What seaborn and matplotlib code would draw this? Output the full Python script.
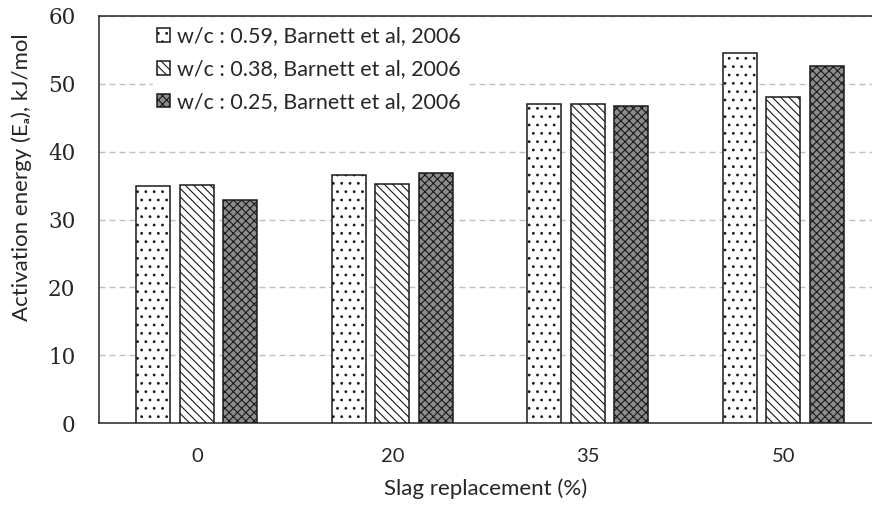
import numpy as np
import pandas as pd
import seaborn as sns
import matplotlib.pyplot as plt
from matplotlib.ticker import MultipleLocator, FixedLocator

# veriler
slag = ['0', '20', '35', '50']
wc_059 = [34.9, 36.6, 47.1, 54.6]
wc_038 = [35.1, 35.2, 47.0, 48.0]
wc_025 = [32.9, 36.85, 46.8, 52.6]
series_labels = ['w/c : 0.59, Barnett et al, 2006',
                 'w/c : 0.38, Barnett et al, 2006',
                 'w/c : 0.25, Barnett et al, 2006']

df = pd.DataFrame({
    'slag': slag * 3,
    'Ea': wc_059 + wc_038 + wc_025,
    'series': [series_labels[0]] * 4 + [series_labels[1]] * 4 + [series_labels[2]] * 4,
})

sns.set_style('white')
plt.rcParams['font.family'] = ['Lato', 'DejaVu Sans']
plt.rcParams['hatch.linewidth'] = 0.8

fig = plt.figure(figsize=(8.72, 5.08), dpi=100)
ax = fig.add_axes([99 / 872, 85 / 508, 773 / 872, 407 / 508])

sns.barplot(data=df, x='slag', y='Ea', hue='series', order=slag, hue_order=series_labels,
            width=0.6675, gap=0.218, palette=['white'] * 3, edgecolor='#1a1a1a',
            linewidth=1.1, legend=False, ax=ax, zorder=3)

# desenler
hatches = ['..', '\\\\\\\\', 'xxxx']
faces = ['white', 'white', '#8c8c8c']
for cont, h, fc in zip(ax.containers, hatches, faces):
    for p in cont:
        p.set_hatch(h)
        p.set_facecolor(fc)
        p.set_edgecolor('#1a1a1a')

ax.set_xlim(-0.5, -0.5 + 773 / 195.5)
ax.set_ylim(0, 60)

# eksen ve tick ayarları
ax.yaxis.set_major_locator(MultipleLocator(10))
ax.yaxis.set_minor_locator(MultipleLocator(2))
ax.xaxis.set_minor_locator(FixedLocator([0.5, 1.5, 2.5]))
ax.tick_params(axis='y', which='major', direction='out', length=8, width=1, color='#333333',
               labelsize=15.5, pad=9)
ax.tick_params(axis='y', which='minor', direction='in', length=5, width=1, color='#333333')
ax.tick_params(axis='x', which='major', direction='out', length=5, width=1, color='#555555',
               labelsize=14.5, pad=13)
ax.tick_params(axis='x', which='minor', direction='in', length=6, width=1, color='#555555')
for lab in ax.get_yticklabels():
    lab.set_fontfamily('DejaVu Serif')

ax.yaxis.grid(True, which='major', color='#bfbfbf', linestyle=(0, (4.3, 2.9)), linewidth=1.0, zorder=0)
ax.set_axisbelow(True)

for s in ['left', 'bottom', 'top']:
    ax.spines[s].set_color('#262626')
    ax.spines[s].set_linewidth(1.1)
ax.spines['right'].set_visible(False)

ax.set_xlabel('Slag replacement (%)', fontsize=16, labelpad=10)
ax.set_ylabel('Activation energy (Eₐ), kJ/mol', fontsize=16)
ax.yaxis.set_label_coords(-0.087, 0.603)

leg = ax.legend(ax.containers, series_labels, loc='upper left', bbox_to_anchor=(0.07, 0.985),
                frameon=True, fontsize=15.5, handlelength=0.6, handleheight=0.6,
                handletextpad=0.3, labelspacing=0.6, borderpad=0.2, borderaxespad=0)
leg.get_frame().set_edgecolor('white')
leg.get_frame().set_facecolor('white')
leg.get_frame().set_alpha(1)

fig.savefig('out.png', dpi=100)
